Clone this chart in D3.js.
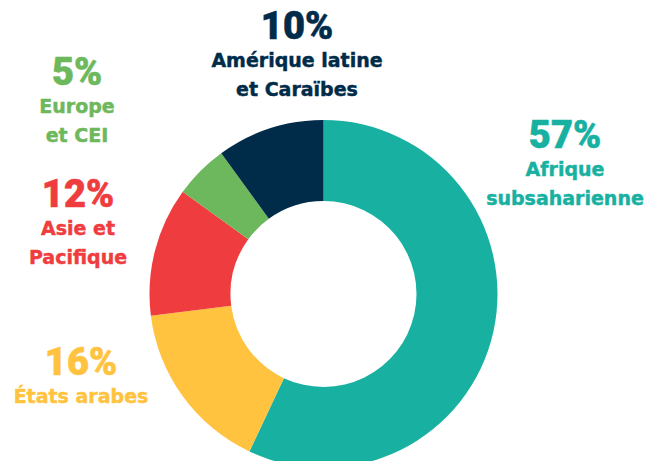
<!DOCTYPE html>
<html>
<head>
<meta charset="utf-8">
<script src="https://cdn.jsdelivr.net/npm/d3@7"></script>
<style>
  html, body { margin: 0; padding: 0; background: #ffffff; }
  svg { display: block; }
  text.name { font-family: "DejaVu Sans", sans-serif; font-weight: bold; }
  text.pct { font-family: Roboto, "Liberation Sans", sans-serif; font-weight: 900; }
</style>
</head>
<body>
<svg id="chart" width="650" height="461"></svg>
<script>
// Data
const regions = ["Afrique subsaharienne", "États arabes", "Asie et Pacifique", "Europe et CEI", "Amérique latine et Caraïbes"];
const shares = [57, 16, 12, 5, 10];
const colors = ["#18b1a1", "#ffc33f", "#ef3d3f", "#6db85c", "#002b49"];
const percentLabels = ["57%", "16%", "12%", "5%", "10%"];
const nameLines = [
  ["Afrique", "subsaharienne"],
  ["États arabes"],
  ["Asie et", "Pacifique"],
  ["Europe", "et CEI"],
  ["Amérique latine", "et Caraïbes"]
];

// Layout
const W = 650, H = 461;
const cx = 323.5, cy = 294;
const outerR = 174, innerR = 93;
// label anchor (centre x, baseline y of the percentage line)
const labelPos = [
  {x: 565, y: 148},
  {x: 81,  y: 375},
  {x: 78,  y: 207},
  {x: 77,  y: 85},
  {x: 297, y: 39}
];
const pctSize = 38, nameSize = 19, lineGap = 29, firstGap = 28;

const svg = d3.select("#chart");
const data = regions.map((r, i) => ({region: r, value: shares[i], i}));

const pie = d3.pie().sort(null).value(d => d.value);
const arc = d3.arc().innerRadius(innerR).outerRadius(outerR);
const color = d3.scaleOrdinal().domain(regions).range(colors);

const g = svg.append("g").attr("transform", `translate(${cx},${cy})`);
g.selectAll("path")
  .data(pie(data))
  .join("path")
  .attr("d", arc)
  .attr("fill", d => color(d.data.region));

const labels = svg.selectAll("g.label")
  .data(data)
  .join("g")
  .attr("class", "label")
  .attr("fill", d => color(d.region))
  .attr("stroke", d => color(d.region))
  .attr("text-anchor", "middle");

labels.append("text")
  .attr("class", "pct")
  .attr("x", d => labelPos[d.i].x)
  .attr("y", d => labelPos[d.i].y)
  .attr("font-size", pctSize)
  .attr("stroke-width", 0.6)
  .text(d => percentLabels[d.i]);

labels.each(function(d) {
  const sel = d3.select(this);
  nameLines[d.i].forEach((line, k) => {
    sel.append("text")
      .attr("class", "name")
      .attr("x", labelPos[d.i].x)
      .attr("y", labelPos[d.i].y + firstGap + k * lineGap)
      .attr("font-size", nameSize)
      .attr("stroke-width", 0.45)
      .text(line);
  });
});
</script>
</body>
</html>
